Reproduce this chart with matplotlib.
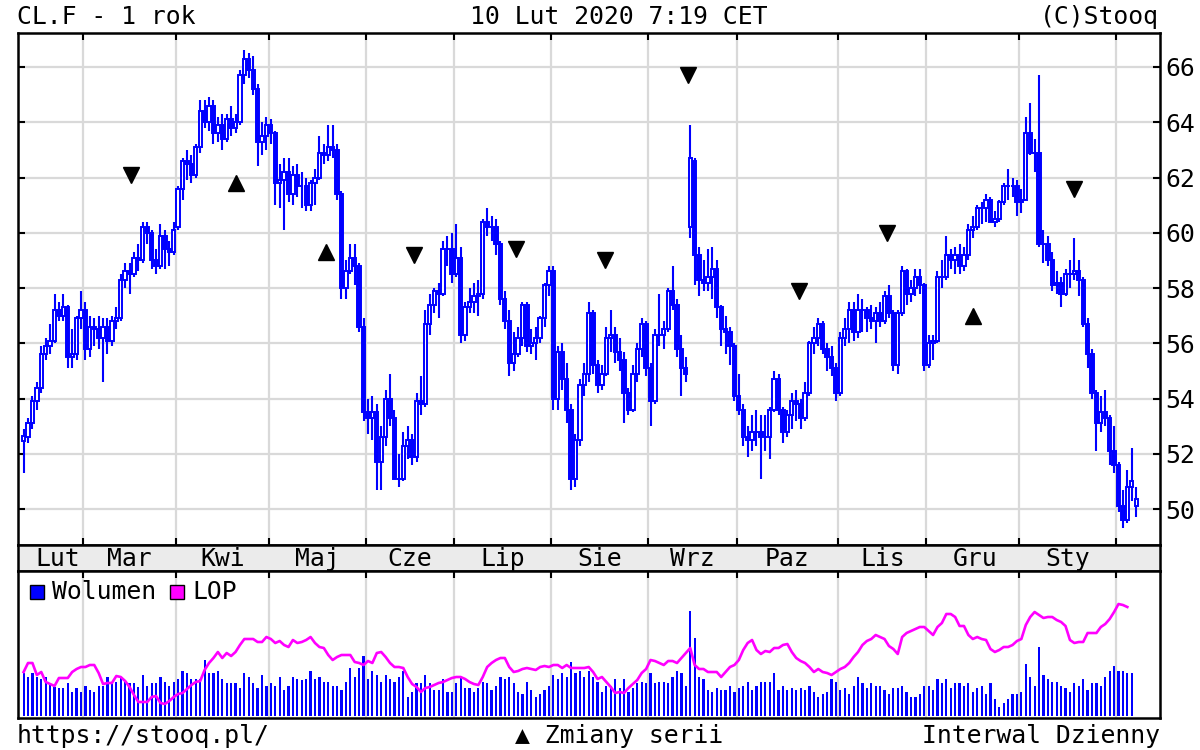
import matplotlib
matplotlib.use("Agg")
import matplotlib.pyplot as plt
from matplotlib.patches import Rectangle
import numpy as np

plt.rcParams['font.family'] = ['DejaVu Sans Mono', 'DejaVu Sans']
FS = 17.8
BLUE = '#0000ff'
MAGENTA = '#ff00ff'
GRID = '#d9d9d9'

##############################################################################
### Data ###
month_names = ['Lut', 'Mar', 'Kwi', 'Maj', 'Cze', 'Lip', 'Sie', 'Wrz', 'Paz', 'Lis', 'Gru', 'Sty']
month_days = [14, 21, 21, 22, 20, 22, 22, 20, 23, 20, 21, 22, 5]   # trading days per month
month_label_pos = [7.7, 24.0, 45.0, 66.5, 87.5, 108.5, 130.5, 151.5, 173.0, 194.5, 215.5, 236.5]
y_ticks = [50, 52, 54, 56, 58, 60, 62, 64, 66]

opens = [
    52.45, 52.6, 53.1, 53.9, 54.4, 55.6, 55.9, 56.1, 57.2, 57.0, 57.3, 55.5, 55.6, 56.9,
    57.2, 55.8, 56.6, 56.5, 56.2, 56.6, 56.1, 56.8, 56.9, 58.3, 58.6, 58.5, 59.1, 59.0, 60.2, 60.0, 59.0, 58.8, 59.9, 59.4, 59.3,
    60.2, 61.6, 62.6, 62.5, 62.1, 63.1, 64.4, 64.0, 64.6, 63.6, 63.9, 63.4, 64.1, 63.8, 64.0, 65.7, 66.3, 65.9, 65.2, 63.3, 63.5,
    63.9, 63.6, 61.8, 61.9, 62.2, 61.4, 62.1, 61.7, 61.7, 61.0, 61.8, 62.0, 62.9, 62.8, 63.1, 63.0, 61.4, 58.0, 58.6, 59.1, 58.8, 56.6,
    53.5, 53.3, 53.5, 51.7, 52.6, 54.0, 53.3, 51.1, 51.1, 52.3, 52.5, 51.9, 53.9, 53.8, 56.7, 57.4, 57.9, 57.8, 59.4, 59.4,
    58.5, 59.1, 56.3, 57.3, 57.5, 57.7, 57.8, 60.4, 60.2, 60.2, 59.6, 57.6, 56.8, 55.3, 55.6, 56.2, 57.4, 55.9, 56.0, 56.2, 56.9, 58.1,
    58.6, 54.0, 55.7, 54.7, 53.6, 51.1, 52.5, 54.5, 54.9, 57.1, 55.2, 54.5, 54.9, 56.2, 56.3, 55.7, 55.4, 54.2, 53.6, 54.9, 55.8, 56.7,
    55.1, 53.9, 56.3, 56.3, 56.5, 57.9, 57.4, 55.8, 55.1, 60.2, 62.6, 59.2, 58.3, 58.2, 58.4, 58.7, 57.3, 56.5, 56.4, 55.9,
    54.1, 53.6, 52.6, 52.5, 52.8, 52.8, 52.6, 52.6, 53.6, 54.7, 53.6, 52.8, 53.4, 53.9, 53.8, 53.3, 54.2, 56.0, 56.2, 56.7, 55.8, 55.5, 55.1,
    54.2, 56.2, 56.5, 57.2, 56.4, 57.2, 57.2, 56.9, 56.8, 57.1, 56.8, 57.7, 57.1, 55.2, 57.1, 58.6, 57.8, 58.0, 58.4, 58.1,
    55.2, 56.0, 56.1, 58.4, 58.4, 59.2, 59.0, 59.2, 58.8, 59.2, 60.1, 60.2, 60.9, 60.9, 61.2, 60.4, 60.5, 61.1, 61.7, 61.7, 61.7,
    61.1, 61.2, 63.6, 62.9, 62.9, 59.6, 59.6, 59.0, 58.1, 58.2, 57.8, 58.5, 58.5, 58.6, 58.3, 56.7, 55.6, 54.2, 53.1, 53.5, 53.3, 52.1,
    51.6, 50.1, 49.6, 50.8, 50.1]
highs = [
    52.9, 53.3, 54.1, 54.6, 55.9, 56.2, 56.7, 57.8, 57.5, 57.8, 57.4, 56.5, 57.0, 57.9,
    57.5, 57.0, 56.9, 57.0, 56.9, 56.9, 57.0, 57.3, 58.5, 58.9, 58.9, 59.3, 59.6, 60.4, 60.4, 60.1, 59.4, 60.3, 60.1, 59.7, 60.4,
    61.7, 62.7, 63.0, 62.8, 63.2, 64.8, 64.8, 64.9, 64.8, 64.2, 64.3, 64.3, 64.6, 64.3, 65.9, 66.6, 66.5, 66.4, 65.4, 64.0, 64.2,
    64.1, 63.7, 62.5, 62.7, 62.7, 62.4, 62.5, 62.2, 62.0, 61.9, 62.3, 63.5, 63.2, 63.9, 63.9, 63.2, 61.5, 59.0, 59.6, 59.6, 58.9, 56.9,
    54.0, 54.1, 53.8, 53.0, 54.3, 54.9, 53.6, 52.0, 52.8, 53.0, 52.7, 54.2, 54.8, 57.2, 57.8, 58.0, 58.2, 59.7, 59.9, 60.0,
    60.3, 59.5, 57.5, 58.0, 58.2, 58.3, 60.5, 60.9, 60.6, 60.5, 59.7, 57.9, 57.2, 56.4, 56.6, 57.5, 57.5, 56.5, 56.6, 57.0, 58.2, 58.8,
    58.8, 55.9, 56.0, 55.3, 53.8, 52.7, 54.7, 55.3, 57.5, 57.2, 55.4, 55.2, 56.6, 57.2, 56.6, 56.2, 55.7, 54.4, 55.2, 56.0, 56.9, 56.8,
    55.3, 56.5, 57.8, 56.8, 58.0, 58.8, 57.6, 56.3, 55.5, 63.9, 62.7, 59.5, 59.0, 59.4, 59.5, 59.0, 57.4, 57.0, 56.6, 56.0,
    54.9, 53.8, 53.0, 53.4, 53.6, 53.4, 53.4, 53.7, 55.0, 54.9, 53.7, 53.6, 54.2, 54.3, 54.0, 54.6, 56.1, 56.6, 56.9, 56.8, 56.0, 55.9, 55.3,
    56.4, 56.9, 57.5, 57.5, 57.8, 57.6, 57.3, 57.4, 57.3, 57.5, 57.9, 58.1, 57.2, 57.2, 58.8, 58.7, 58.3, 58.7, 58.7, 58.2,
    56.3, 56.3, 58.6, 59.0, 59.9, 59.4, 59.5, 59.6, 59.5, 60.3, 60.6, 61.0, 61.1, 61.4, 61.3, 60.8, 61.2, 61.8, 62.3, 62.0, 61.9,
    61.6, 64.2, 64.7, 63.4, 65.7, 60.1, 59.9, 59.3, 58.6, 58.4, 58.7, 59.0, 59.8, 59.0, 58.4, 56.9, 55.8, 54.3, 54.1, 54.3, 53.4, 53.0,
    51.7, 50.7, 51.4, 52.2, 50.8]
lows = [
    51.3, 52.4, 52.9, 53.6, 54.2, 55.4, 55.6, 56.0, 56.8, 56.8, 55.1, 55.1, 55.4, 56.5,
    55.4, 55.5, 55.9, 55.8, 54.6, 55.6, 55.9, 56.5, 56.8, 58.0, 57.8, 58.4, 58.6, 58.9, 59.6, 58.7, 58.5, 58.7, 58.7, 58.8, 59.2,
    60.1, 61.2, 61.9, 61.8, 62.0, 62.9, 63.8, 63.7, 63.2, 63.3, 63.0, 63.3, 63.5, 63.6, 63.9, 65.4, 65.6, 65.0, 62.4, 62.8, 63.0,
    63.2, 61.0, 60.9, 60.1, 61.1, 61.0, 61.3, 60.9, 60.8, 60.8, 61.0, 61.9, 62.5, 62.6, 62.7, 61.2, 57.6, 57.6, 58.5, 58.1, 56.4, 53.2,
    52.7, 52.5, 50.7, 50.7, 52.3, 53.0, 51.1, 50.8, 51.0, 51.8, 51.6, 51.7, 53.4, 53.7, 56.3, 57.1, 56.9, 57.7, 58.8, 58.2,
    58.4, 56.0, 56.1, 57.1, 57.1, 57.0, 57.6, 59.9, 59.7, 59.2, 57.4, 56.5, 54.8, 55.0, 55.5, 55.9, 55.7, 55.6, 55.4, 56.0, 56.6, 57.7,
    53.6, 53.6, 54.3, 53.1, 50.7, 50.8, 52.3, 54.1, 54.6, 54.9, 54.2, 54.3, 54.8, 55.7, 55.3, 55.0, 53.1, 53.4, 53.5, 54.6, 55.5, 54.8,
    53.0, 53.8, 55.9, 55.8, 56.4, 57.2, 55.5, 54.1, 54.6, 59.8, 58.1, 57.7, 57.9, 57.9, 57.6, 56.9, 55.9, 55.6, 55.2, 53.9,
    53.4, 52.3, 51.9, 52.1, 52.3, 51.1, 52.1, 51.8, 53.5, 53.4, 52.4, 52.6, 52.9, 53.2, 52.9, 53.2, 54.1, 55.6, 55.9, 55.6, 55.0, 54.8, 53.9,
    54.1, 55.9, 56.0, 56.1, 56.2, 56.4, 56.4, 56.5, 56.0, 56.6, 56.7, 56.9, 55.0, 54.9, 57.0, 57.4, 57.5, 57.7, 57.8, 55.0,
    55.1, 55.4, 56.0, 58.0, 58.3, 58.7, 58.5, 58.5, 58.6, 59.0, 59.8, 60.1, 60.3, 60.4, 60.4, 60.2, 60.4, 61.0, 61.2, 61.3, 60.6,
    60.7, 61.2, 62.8, 62.2, 59.5, 58.9, 58.8, 57.9, 57.8, 57.3, 57.7, 58.0, 58.3, 57.7, 56.6, 55.1, 54.0, 52.1, 52.8, 53.0, 51.6, 51.3,
    49.9, 49.3, 49.5, 50.3, 49.7]
closes = [
    52.65, 53.1, 53.9, 54.4, 55.6, 55.9, 56.1, 57.2, 57.0, 57.3, 55.5, 55.6, 56.9, 57.2,
    55.8, 56.6, 56.5, 56.2, 56.6, 56.1, 56.8, 56.9, 58.3, 58.6, 58.5, 59.1, 59.0, 60.2, 60.0, 59.0, 58.8, 59.9, 59.4, 59.3, 60.1,
    61.6, 62.6, 62.5, 62.1, 63.1, 64.4, 64.0, 64.6, 63.6, 63.9, 63.4, 64.1, 63.8, 64.0, 65.7, 66.3, 65.9, 65.2, 63.3, 63.5, 63.9,
    63.6, 61.8, 61.9, 62.2, 61.4, 62.1, 61.7, 61.7, 61.0, 61.8, 62.0, 62.9, 62.8, 63.1, 63.0, 61.4, 58.0, 58.6, 59.1, 58.8, 56.6, 53.5,
    53.3, 53.5, 51.7, 52.6, 54.0, 53.3, 51.1, 51.1, 52.3, 52.5, 51.9, 53.9, 53.8, 56.7, 57.4, 57.9, 57.8, 59.4, 59.4, 58.5,
    59.1, 56.3, 57.3, 57.5, 57.7, 57.8, 60.4, 60.2, 60.2, 59.6, 57.6, 56.8, 55.3, 55.6, 56.2, 57.4, 55.9, 56.0, 56.2, 56.9, 58.1, 58.6,
    54.0, 55.7, 54.7, 53.6, 51.1, 52.5, 54.5, 54.9, 57.1, 55.2, 54.5, 54.9, 56.2, 56.3, 55.7, 55.4, 54.2, 53.6, 54.9, 55.8, 56.7, 55.1,
    53.9, 56.3, 56.3, 56.5, 57.9, 57.4, 55.8, 55.1, 54.9, 62.7, 59.2, 58.3, 58.2, 58.4, 58.7, 57.3, 56.5, 56.4, 55.9, 54.1,
    53.6, 52.6, 52.5, 52.8, 52.8, 52.6, 52.6, 53.6, 54.7, 53.6, 52.8, 53.4, 53.9, 53.8, 53.3, 54.2, 56.0, 56.2, 56.7, 55.8, 55.5, 55.1, 54.2,
    56.2, 56.5, 57.2, 56.4, 57.2, 57.2, 56.9, 56.8, 57.1, 56.8, 57.7, 57.1, 55.2, 57.1, 58.6, 57.8, 58.0, 58.4, 58.1, 55.2,
    56.0, 56.1, 58.4, 58.4, 59.2, 59.0, 59.2, 58.8, 59.2, 60.1, 60.2, 60.9, 60.9, 61.2, 60.4, 60.5, 61.1, 61.7, 61.7, 61.7, 61.1,
    61.2, 63.6, 62.9, 62.9, 59.6, 59.6, 59.0, 58.1, 58.2, 57.8, 58.5, 58.5, 58.6, 58.3, 56.7, 55.6, 54.2, 53.1, 53.5, 53.3, 52.1, 51.6,
    50.1, 49.6, 50.8, 51.0, 50.35]

# volume and LOP panel has no scale, values are relative heights
volume = [
    43, 39, 43, 39, 37, 39, 33, 29, 28, 28, 33, 24, 28, 24, 30, 26, 24, 30, 30, 39,
    33, 34, 39, 34, 33, 33, 29, 41, 30, 33, 33, 39, 34, 30, 34, 37, 45, 43, 37, 37,
    37, 56, 43, 43, 45, 37, 33, 33, 33, 28, 43, 39, 33, 28, 41, 30, 33, 30, 39, 26,
    30, 39, 37, 36, 37, 45, 37, 39, 34, 34, 30, 30, 26, 34, 48, 39, 48, 60, 37, 45,
    41, 34, 41, 37, 34, 39,
    45, 19, 24, 33, 33, 41, 33, 26, 26, 37, 24, 24, 33, 39, 28, 28, 24, 28, 34, 33,
    26, 30, 39, 37, 39, 33, 24, 22, 34, 26, 19, 22, 26, 30, 41, 37, 43, 39, 54, 43,
    45, 39, 45, 39, 34, 24, 30, 30, 37, 28, 37, 24, 28, 33, 34, 33, 43, 33, 34, 34,
    33, 39, 45, 43, 30, 105, 78, 39, 37, 26, 24, 28, 26, 26, 30, 24, 28, 30, 34, 26,
    30, 34, 34, 34, 43, 26, 30, 26, 28, 26, 28,
    26, 30, 24, 19, 22, 24, 37, 34, 26, 28, 22, 30, 39, 33, 28, 33, 30, 30, 26, 22,
    28, 28, 30, 24, 19, 19, 22, 30, 30, 26, 37, 33, 37, 28, 33, 33, 30, 33, 24, 28,
    30, 22, 33, 17, 9, 13, 17, 22, 22, 24, 52, 39, 30, 69, 41, 37, 34, 34, 30, 28,
    24, 33, 30, 37, 26, 33, 33, 30, 39, 45, 50, 45, 45, 43, 43]
lop = [
    44, 53, 53, 41, 44, 34, 32, 30, 38, 38, 38, 44, 47, 49, 49, 51, 51, 43, 32, 33,
    33, 40, 39, 35, 29, 21, 14, 14, 14, 19, 20, 13, 12, 15, 19, 22, 23, 27, 31, 34,
    35, 46, 53, 58, 64, 58, 63, 60, 64, 71, 77, 77, 77, 74, 74, 79, 77, 73, 75, 71,
    69, 76, 73, 74, 76, 79, 73, 69, 68, 61, 56, 59, 61, 61, 61, 54, 53, 51, 55, 53,
    63, 64, 59, 53, 49, 49,
    48, 39, 32, 29, 24, 28, 29, 31, 33, 34, 36, 38, 39, 39, 37, 34, 32, 31, 39, 49,
    53, 56, 58, 58, 49, 44, 45, 47, 48, 47, 46, 49, 50, 49, 51, 51, 48, 51, 48, 48,
    48, 48, 49, 44, 37, 39, 34, 29, 23, 24, 23, 28, 32, 36, 43, 47, 56, 55, 53, 51,
    55, 55, 53, 58, 63, 68, 51, 47, 47, 44, 44, 44, 39, 44, 49, 51, 56, 66, 73, 76,
    66, 62, 65, 64, 68, 68, 71, 72, 64, 58, 55,
    53, 49, 44, 47, 44, 43, 41, 44, 47, 49, 53, 59, 64, 71, 75, 77, 81, 79, 77, 70,
    67, 62, 79, 83, 85, 87, 89, 89, 85, 81, 89, 93, 102, 102, 99, 90, 90, 81, 77, 79,
    77, 76, 67, 64, 66, 69, 69, 71, 75, 77, 91, 99, 104, 101, 98, 99, 99, 96, 94, 90,
    76, 73, 74, 74, 83, 83, 83, 89, 92, 97, 104, 112, 111, 109]

# series change markers (Zmiany serii)
tri_day = [24.3, 48.0, 68.4, 88.4, 111.6, 131.6, 150.5, 175.7, 195.6, 215.0, 237.9]
tri_price = [62.1, 61.8, 59.3, 59.2, 59.4, 59.0, 65.7, 57.9, 60.0, 57.0, 61.6]
tri_marker = ['v', '^', '^', 'v', 'v', 'v', 'v', 'v', 'v', '^', 'v']

##############################################################################
### Plot ###
o = np.array(opens)
h = np.array(highs)
l = np.array(lows)
c = np.array(closes)
x = np.arange(len(c))
bounds = np.cumsum(month_days)[:-1] - 0.5
xlim = (-1.27, 257.4)

fig = plt.figure(figsize=(12, 7.5), dpi=100)
L, W = 18 / 1200, 1142 / 1200
ax = fig.add_axes([L, 1 - 545 / 750, W, 512 / 750])
ax_m = fig.add_axes([L, 1 - 571 / 750, W, 26 / 750])
ax_v = fig.add_axes([L, 1 - 718 / 750, W, 147 / 750])

# price candles
up = c >= o
ax.vlines(x, l, h, color=BLUE, lw=1.5, zorder=3)
ax.bar(x[up], (c - o)[up], bottom=o[up], width=0.75, facecolor='white',
       edgecolor=BLUE, lw=1.4, zorder=4)
ax.bar(x[~up], (o - c)[~up], bottom=c[~up], width=0.75, facecolor=BLUE,
       edgecolor=BLUE, lw=1.4, zorder=4)
for d, p, m in zip(tri_day, tri_price, tri_marker):
    ax.plot(d, p, marker=m, color='black', ms=11, zorder=5)

ax.set_xlim(*xlim)
ax.set_ylim(48.70, 67.23)
ax.set_xticks(bounds)
ax.set_yticks(y_ticks)
ax.grid(True, color=GRID, lw=1.6)
ax.set_axisbelow(True)
ax.tick_params(direction='in', length=5, width=1.5, top=True, right=True,
               labelbottom=False, labelleft=False, labelright=True,
               labelsize=FS, pad=4)

# month strip
ax_m.set_facecolor('#ebebeb')
ax_m.set_xlim(*xlim)
ax_m.set_ylim(0, 1)
ax_m.set_xticks([])
ax_m.set_yticks([])
for name, pos in zip(month_names, month_label_pos):
    ax_m.text(pos, 0.19, name, ha='center', va='baseline', fontsize=FS)

# volume + LOP
ax_v.bar(x[:len(volume)], volume, width=0.5, color=BLUE, zorder=3)
ax_v.plot(x[:len(lop)], lop, color=MAGENTA, lw=1.9, zorder=4)
ax_v.set_xlim(*xlim)
ax_v.set_ylim(-2, 145)
ax_v.set_xticks(bounds)
ax_v.set_yticks([])
ax_v.grid(True, axis='x', color=GRID, lw=1.6)
ax_v.set_axisbelow(True)
ax_v.tick_params(axis='x', direction='in', length=5, width=1.5, top=True,
                 bottom=False, labelbottom=False)

for a in (ax, ax_m, ax_v):
    for s in a.spines.values():
        s.set_linewidth(1.8)
        s.set_color('black')

# legend in volume panel
for sx, col in ((30, BLUE), (170, MAGENTA)):
    fig.add_artist(Rectangle((sx / 1200, 1 - 599 / 750), 14 / 1200, 14 / 750,
                             transform=fig.transFigure, facecolor=col,
                             edgecolor='black', lw=1.0))
fig.text(52 / 1200, 1 - 599 / 750, 'Wolumen', fontsize=FS, va='baseline')
fig.text(192 / 1200, 1 - 599 / 750, 'LOP', fontsize=FS, va='baseline')

# header and footer
fig.text(17 / 1200, 1 - 24 / 750, 'CL.F - 1 rok', fontsize=FS, va='baseline')
fig.text(619 / 1200, 1 - 24 / 750, '10 Lut 2020 7:19 CET', fontsize=FS,
         va='baseline', ha='center')
fig.text(1159 / 1200, 1 - 24 / 750, '(C)Stooq', fontsize=FS, va='baseline', ha='right')
fig.text(17 / 1200, 1 - 743 / 750, 'https://stooq.pl/', fontsize=FS, va='baseline')
fig.text(619 / 1200, 1 - 743 / 750, '▲ Zmiany serii', fontsize=FS,
         va='baseline', ha='center')
fig.text(1160 / 1200, 1 - 743 / 750, 'Interwal Dzienny', fontsize=FS,
         va='baseline', ha='right')

fig.savefig('out.png', dpi=100)
